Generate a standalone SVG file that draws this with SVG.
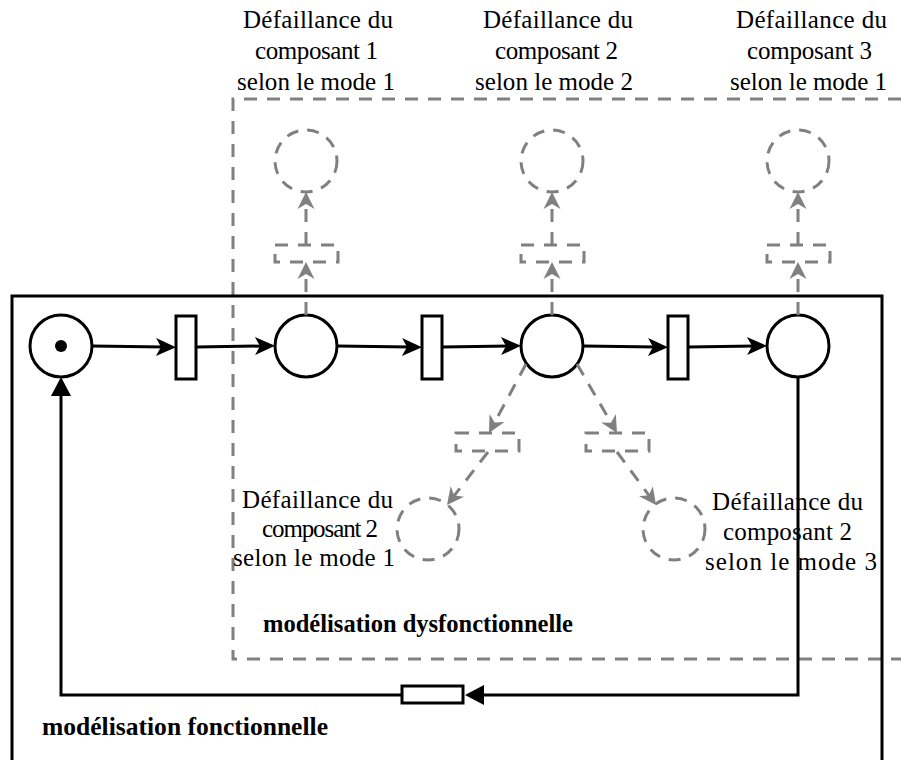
<svg xmlns="http://www.w3.org/2000/svg" width="901" height="760" viewBox="0 0 901 760">
<style>
.t{font-family:"Liberation Serif","Times New Roman",serif;font-size:25px;fill:#000}
.b{font-family:"Liberation Serif","Times New Roman",serif;font-size:25px;font-weight:bold;fill:#000}
.pl{fill:#fff;stroke:#000;stroke-width:3}
.tr{fill:#fff;stroke:#000;stroke-width:3}
.gp{fill:none;stroke:#808080;stroke-width:3;stroke-dasharray:12 9}
.gt{fill:none;stroke:#808080;stroke-width:3;stroke-dasharray:13 10}
.ga{fill:none;stroke:#808080;stroke-width:3;stroke-dasharray:13 10;marker-end:url(#ag)}
.ba{fill:none;stroke:#000;stroke-width:3;marker-end:url(#ab)}
.bt{fill:none;stroke:#000;stroke-width:3;marker-end:url(#at)}
</style>
<defs>
<marker id="ag" viewBox="-10 -10 24 20" refX="0" refY="0" markerWidth="24" markerHeight="20" markerUnits="userSpaceOnUse" orient="auto"><path d="M10,0 L-7,-8.5 L-2,0 L-7,8.5 Z" fill="#808080"/></marker>
<marker id="ab" viewBox="-10 -10 24 20" refX="0" refY="0" markerWidth="24" markerHeight="20" markerUnits="userSpaceOnUse" orient="auto"><path d="M12,0 L-8,-9 L-3,0 L-8,9 Z" fill="#000"/></marker>
<marker id="at" viewBox="-10 -12 24 24" refX="0" refY="0" markerWidth="24" markerHeight="24" markerUnits="userSpaceOnUse" orient="auto"><path d="M12,0 L-7,-10 L-7,10 Z" fill="#000"/></marker>
</defs>
<rect width="901" height="760" fill="#fff"/>

<g id="zone-dysfonctionnelle">
<path d="M901,99 H233 V659 H901" class="gt"/>
<text class="b" x="263" y="632" textLength="310" lengthAdjust="spacingAndGlyphs">modélisation dysfonctionnelle</text>
</g>
<g id="zone-fonctionnelle">
<path d="M12,762 V296 H882 V762" fill="none" stroke="#000" stroke-width="3"/>
<text class="b" x="42" y="735" textLength="286" lengthAdjust="spacingAndGlyphs">modélisation fonctionnelle</text>
</g>

<g id="p1"><circle cx="61" cy="346" r="31" class="pl"/><circle cx="61" cy="346" r="6" fill="#000"/></g>
<g id="t1"><rect x="176" y="316" width="20" height="63" class="tr"/></g>
<g id="p2"><circle cx="306" cy="346" r="31" class="pl"/></g>
<g id="t2"><rect x="422" y="316" width="20" height="63" class="tr"/></g>
<g id="p3"><circle cx="552" cy="346" r="31" class="pl"/></g>
<g id="t3"><rect x="668" y="316" width="20" height="63" class="tr"/></g>
<g id="p4"><circle cx="798" cy="346" r="31" class="pl"/></g>
<g id="t4"><rect x="402" y="686" width="61" height="17" class="tr"/></g>

<g id="tf1"><rect x="275" y="245" width="63" height="17" class="gt"/></g>
<g id="tf2"><rect x="521" y="245" width="63" height="17" class="gt"/></g>
<g id="tf3"><rect x="767" y="245" width="63" height="17" class="gt"/></g>
<g id="tf4"><rect x="456" y="433" width="63" height="18" class="gt"/></g>
<g id="tf5"><rect x="586" y="433" width="63" height="18" class="gt"/></g>

<g id="pf1"><circle cx="306" cy="161" r="31" class="gp"/>
<text class="t" x="243" y="28" textLength="150">Défaillance du</text>
<text class="t" x="255" y="59" textLength="123">composant 1</text>
<text class="t" x="237" y="90" textLength="158">selon le mode 1</text></g>
<g id="pf2"><circle cx="552" cy="161" r="31" class="gp"/>
<text class="t" x="483" y="28" textLength="150">Défaillance du</text>
<text class="t" x="495" y="59" textLength="123">composant 2</text>
<text class="t" x="475" y="90" textLength="158">selon le mode 2</text></g>
<g id="pf3"><circle cx="798" cy="161" r="31" class="gp"/>
<text class="t" x="736" y="28" textLength="151">Défaillance du</text>
<text class="t" x="747" y="59" textLength="125">composant 3</text>
<text class="t" x="730" y="90" textLength="157">selon le mode 1</text></g>
<g id="pf4"><circle cx="428" cy="529" r="31" class="gp"/>
<text class="t" x="242" y="508" textLength="151">Défaillance du</text>
<text class="t" x="262" y="537" textLength="116">composant 2</text>
<text class="t" x="233" y="566" textLength="162">selon le mode 1</text></g>
<g id="pf5"><circle cx="674" cy="529" r="31" class="gp"/>
<text class="t" x="712" y="510" textLength="151">Défaillance du</text>
<text class="t" x="723" y="540" textLength="129">composant 2</text>
<text class="t" x="705" y="570" textLength="172">selon le mode 3</text></g>

<g id="connectors">
<line x1="92" y1="346" x2="164" y2="347" class="ba"/>
<line x1="196" y1="347" x2="263" y2="346" class="ba"/>
<line x1="337" y1="346" x2="410" y2="347" class="ba"/>
<line x1="442" y1="347" x2="509" y2="346" class="ba"/>
<line x1="583" y1="346" x2="656" y2="347" class="ba"/>
<line x1="688" y1="347" x2="755" y2="346" class="ba"/>
<path d="M798,377 V695 H477" class="bt"/>
<path d="M402,695 H61 V389" class="bt"/>
<line x1="306" y1="315" x2="306" y2="272" class="ga"/>
<line x1="306" y1="245" x2="306" y2="202" class="ga"/>
<line x1="552" y1="315" x2="552" y2="272" class="ga"/>
<line x1="552" y1="245" x2="552" y2="202" class="ga"/>
<line x1="798" y1="315" x2="798" y2="272" class="ga"/>
<line x1="798" y1="245" x2="798" y2="202" class="ga"/>
<line x1="526" y1="364" x2="493.7" y2="424.2" class="ga"/>
<line x1="577" y1="364" x2="612" y2="424.4" class="ga"/>
<line x1="488" y1="452" x2="453.1" y2="497.1" class="ga"/>
<line x1="617" y1="452" x2="650.1" y2="496.9" class="ga"/>
</g>
</svg>
